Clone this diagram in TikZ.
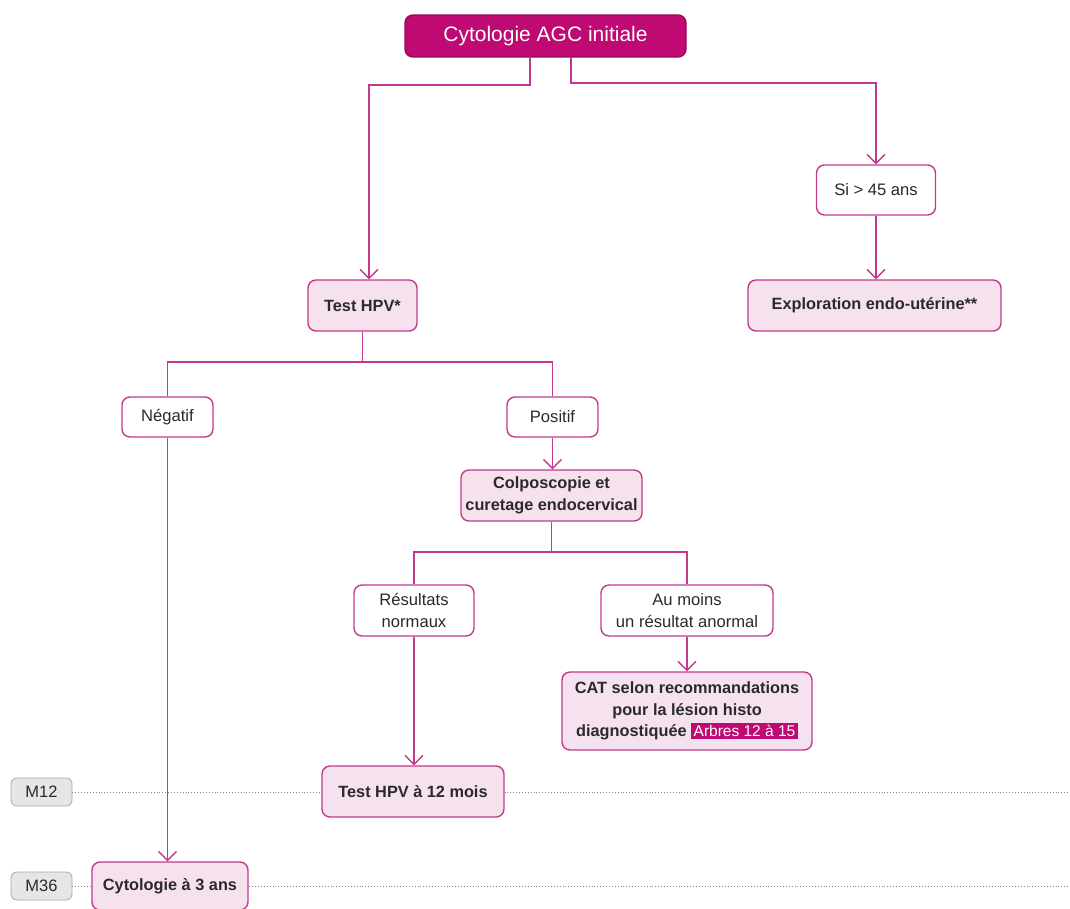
\documentclass[tikz,border=0pt]{standalone}
\usepackage{fontspec}
\setmainfont{Liberation Sans}
\usetikzlibrary{arrows.meta}
\definecolor{mag}{HTML}{BE0A72}
\definecolor{magline}{HTML}{C4398E}
\definecolor{pinkfill}{HTML}{F6E2EF}
\definecolor{greyfill}{HTML}{E6E6E6}
\definecolor{greyline}{HTML}{A8A8A8}
\definecolor{txt}{HTML}{2A2A2A}
\tikzset{
  base/.style={rounded corners=8pt, line width=1.4pt, align=center, inner sep=0pt, text=txt, font=\fontsize{16.6}{21.5}\selectfont},
  topbox/.style={base, fill=mag, draw=mag!80!black, text=white, font=\fontsize{21}{24}\selectfont},
  pinkbox/.style={base, fill=pinkfill, draw=magline, font=\fontsize{16.3}{21.5}\selectfont\bfseries},
  whitebox/.style={base, fill=white, draw=magline},
  timebox/.style={rounded corners=6pt, line width=0.8pt, fill=greyfill, draw=greyline, text=txt, inner sep=0pt, font=\fontsize{16.5}{19}\selectfont},
  conn/.style={draw=magline, line width=1.3pt},
  arr/.style={conn, -{Straight Barb[length=9pt,width=18pt,line width=1.3pt]}},
  timeline/.style={draw=greyline!80!black, line width=0.9pt, dotted},
}
\begin{document}
\begin{tikzpicture}[x=1pt,y=-1pt]
\useasboundingbox (0,0) rectangle (1070,908);
\clip (0,0) rectangle (1070,908);
% timelines
\node[timebox, minimum width=61pt, minimum height=28pt] (m12) at (41.5,792) {M12};
\node[timebox, minimum width=61pt, minimum height=28pt] (m36) at (41.5,886) {M36};
\coordinate (e12) at (1070,792);
\coordinate (e36) at (1070,886);
\draw[timeline] (m12.east) -- (e12);
\draw[timeline] (m36.east) -- (e36);
% nodes
\node[topbox, minimum width=281pt, minimum height=42pt] (top) at (545.5,36) {Cytologie AGC initiale};
\node[whitebox, minimum width=119pt, minimum height=50pt] (si) at (876,190) {Si > 45 ans};
\node[pinkbox, minimum width=253pt, minimum height=51pt] (expl) at (874.5,305.5) {Exploration endo-utérine**};
\node[pinkbox, minimum width=109pt, minimum height=51pt] (hpv) at (362.5,305.5) {Test HPV*};
\node[whitebox, minimum width=91pt, minimum height=40pt] (neg) at (167.5,417) {Négatif};
\node[whitebox, minimum width=91pt, minimum height=40pt] (pos) at (552.5,417) {Positif};
\node[pinkbox, minimum width=181pt, minimum height=51pt] (colpo) at (551.5,495.5) {Colposcopie et\\curetage endocervical};
\node[whitebox, minimum width=120pt, minimum height=51pt] (norm) at (414,610.5) {Résultats\\normaux};
\node[whitebox, minimum width=172pt, minimum height=51pt] (anorm) at (687,610.5) {Au moins\\un résultat anormal};
\node[pinkbox, minimum width=250pt, minimum height=78pt] (cat) at (687,711) {CAT selon recommandations\\pour la lésion histo\\diagnostiquée {\setlength{\fboxsep}{2.5pt}\colorbox{mag}{\textcolor{white}{\mdseries\fontsize{15.5}{18}\selectfont Arbres 12 à 15}}}};
\node[pinkbox, minimum width=182pt, minimum height=51pt] (hpv12) at (413,791.5) {Test HPV à 12 mois};
\node[pinkbox, minimum width=156pt, minimum height=48pt] (cyto3) at (170,886) {Cytologie à 3 ans};
% connectors
\coordinate (tl) at (530,57);
\coordinate (tr) at (571,57);
\coordinate (tlc) at (369,85);
\coordinate (trc) at (876,83);
\coordinate (hj) at (362.5,362);
\coordinate (cj) at (551.5,552);
\draw[arr] (tl) |- (tlc) -- (hpv.north -| tlc);
\draw[arr] (tr) |- (trc) -- (si.north);
\draw[arr] (si.south) -- (expl.north -| si.south);
\draw[conn] (hpv.south) -- (hj) -| (neg.north);
\draw[conn] (hj) -| (pos.north);
\draw[arr] (pos.south) -- (colpo.north -| pos.south);
\draw[conn] (colpo.south) -- (cj) -| (norm.north);
\draw[conn] (cj) -| (anorm.north);
\draw[arr] (anorm.south) -- (cat.north);
\draw[arr] (norm.south) -- (hpv12.north -| norm.south);
\draw[arr] (neg.south) -- (cyto3.north -| neg.south);
\end{tikzpicture}
\end{document}
